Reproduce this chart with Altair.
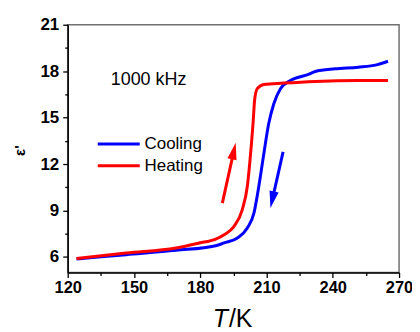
import altair as alt
import pandas as pd

# ---- data ----
cool_T = [124, 146.5, 169, 187, 190.8, 196.8, 201.3, 204.3, 206.5, 208.8, 211.0, 213.3,
          216.3, 220.8, 224.5, 229, 232, 241, 251.5, 259.8, 265]
cool_e = [5.87, 6.15, 6.43, 6.73, 6.91, 7.23, 7.87, 8.83, 10.55, 12.69, 14.62, 15.9,
          16.87, 17.4, 17.61, 17.79, 17.98, 18.15, 18.26, 18.41, 18.64]

heat_T = [124, 146.5, 169, 179.5, 187, 190.8, 195.3, 199.0, 201.3, 202.8, 204.0, 204.6,
          205.8, 208.8, 217.8, 232, 251.5, 265]
heat_e = [5.9, 6.26, 6.58, 6.9, 7.16, 7.44, 7.98, 9.05, 10.55, 12.69, 14.83, 16.12,
          16.87, 17.14, 17.23, 17.34, 17.4, 17.4]

x_ticks = [120, 135, 150, 165, 180, 195, 210, 225, 240, 255, 270]
y_ticks = [6, 7.5, 9, 10.5, 12, 13.5, 15, 16.5, 18, 19.5, 21]

series_names = ["Cooling", "Heating"]
series_colors = ["#0000ff", "#ff0000"]

# legend (drawn inside the plot in data coordinates)
legend_T1 = [133.6, 133.6]
legend_T2 = [152.6, 152.6]
legend_e = [13.29, 11.9]
legend_text_T = [154.8, 154.8]

# annotation text
note_text = ["1000 kHz"]
note_T = [156.6]
note_e = [17.08]

# arrows: shaft start, head centre
arrow_T1 = [190.0, 217.5]
arrow_e1 = [9.48, 12.79]
arrow_T2 = [195.2, 212.6]
arrow_e2 = [12.84, 9.69]
arrow_angle = [12.5, 192.5]

# x-axis title pieces ("T" italic, "/K" upright)
xtitle_parts = ["T", "/K"]
xtitle_styles = ["italic", "normal"]

FONT = "Liberation Sans"

xscale = alt.Scale(domain=[120, 270], nice=False, zero=False)
yscale = alt.Scale(domain=[5, 21], nice=False, zero=False)

xaxis = alt.Axis(
    values=x_ticks, grid=False, labelExpr="datum.value % 30 == 0 ? datum.label : ''",
    tickSize={"condition": {"test": "datum.value % 30 != 0", "value": 3}, "value": 5},
    labelFont=FONT, labelFontSize=16.5, labelFontWeight="bold", labelColor="black",
    labelFlush=False, labelOverlap=False, labelPadding=2,
    domainColor="black", domainWidth=1.5, tickColor="black", tickWidth=1.3,
    title=None,
)
yaxis = alt.Axis(
    values=y_ticks, grid=False, labelExpr="datum.value % 3 == 0 ? datum.label : ''",
    tickSize={"condition": {"test": "datum.value % 3 != 0", "value": 3}, "value": 5},
    labelFont=FONT, labelFontSize=17, labelFontWeight="bold", labelColor="black",
    labelOverlap=False, labelPadding=4,
    domainColor="black", domainWidth=1.5, tickColor="black", tickWidth=1.3,
    title="ε'", titleFont=FONT, titleFontSize=15, titleFontWeight="bold",
    titleColor="black", titleX=-48, titleY=126, titleAngle=270,
    titleBaseline="middle", titleAlign="center",
)


def X(f):
    return alt.X(f, type="quantitative", scale=xscale, axis=xaxis)


def Y(f):
    return alt.Y(f, type="quantitative", scale=yscale, axis=yaxis)


cool_df = pd.DataFrame({"T": cool_T, "e": cool_e})
heat_df = pd.DataFrame({"T": heat_T, "e": heat_e})

cool_line = alt.Chart(cool_df).mark_line(
    color=series_colors[0], strokeWidth=3, interpolate="monotone"
).encode(x=X("T"), y=Y("e"))
heat_line = alt.Chart(heat_df).mark_line(
    color=series_colors[1], strokeWidth=3, interpolate="monotone"
).encode(x=X("T"), y=Y("e"))

leg_df = pd.DataFrame({"name": series_names, "c": series_colors, "x1": legend_T1,
                       "x2": legend_T2, "y": legend_e, "tx": legend_text_T})
leg_lines = alt.Chart(leg_df).mark_rule(strokeWidth=3).encode(
    x=X("x1"), x2="x2", y=Y("y"), color=alt.Color("c:N", scale=None)
)
leg_text = alt.Chart(leg_df).mark_text(
    align="left", baseline="middle", font=FONT, fontSize=17, color="black"
).encode(x=X("tx"), y=Y("y"), text="name:N")

note_df = pd.DataFrame({"t": note_text, "x": note_T, "y": note_e})
note = alt.Chart(note_df).mark_text(
    align="center", baseline="alphabetic", font=FONT, fontSize=18, color="black"
).encode(x=X("x"), y=Y("y"), text="t:N")

arr_df = pd.DataFrame({"x1": arrow_T1, "y1": arrow_e1, "x2": arrow_T2, "y2": arrow_e2,
                       "a": arrow_angle, "c": [series_colors[1], series_colors[0]]})
arr_shaft = alt.Chart(arr_df).mark_rule(strokeWidth=3).encode(
    x=X("x1"), y=Y("y1"), x2="x2", y2="y2", color=alt.Color("c:N", scale=None)
)
arr_head = alt.Chart(arr_df).mark_point(
    shape="M0,-1L0.55,1L-0.55,1Z", filled=True, size=289, opacity=1, strokeWidth=0
).encode(x=X("x2"), y=Y("y2"), angle=alt.Angle("a:Q", scale=None),
         color=alt.Color("c:N", scale=None))

# x-axis title as two text pieces below the plot
t_title = alt.Chart(pd.DataFrame({"t": [xtitle_parts[0]]})).mark_text(
    align="right", baseline="alphabetic", font=FONT, fontSize=25,
    fontStyle=xtitle_styles[0], color="black"
).encode(text="t:N", x=alt.value(161), y=alt.value(304))
k_title = alt.Chart(pd.DataFrame({"t": [xtitle_parts[1]]})).mark_text(
    align="left", baseline="alphabetic", font=FONT, fontSize=25,
    fontStyle=xtitle_styles[1], color="black"
).encode(text="t:N", x=alt.value(162), y=alt.value(304))

chart = alt.layer(
    cool_line, heat_line, leg_lines, leg_text, note, arr_shaft, arr_head,
    t_title, k_title
).properties(
    width=333, height=249,
    background="white",
    autosize=alt.AutoSizeParams(type="none"),
    padding={"left": 60, "top": 16, "right": 13, "bottom": 59},
).configure_view(
    stroke="#707070", strokeWidth=1.5, clip=False
).configure_axis(
    labelFont=FONT, labelFontWeight="bold", labelColor="black"
)

chart.save("out.html", embed_options={"renderer": "svg", "actions": False})
